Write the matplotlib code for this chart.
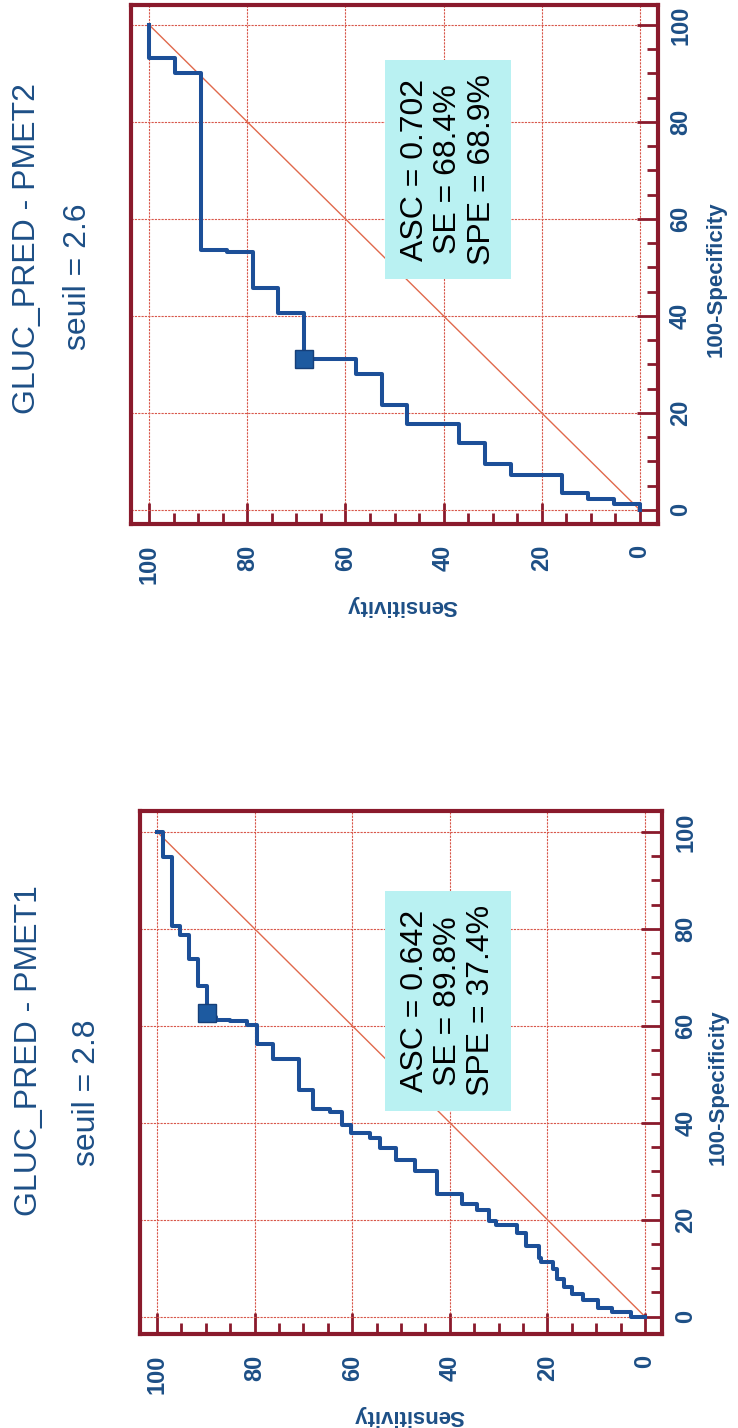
import matplotlib.pyplot as plt
from matplotlib.ticker import MultipleLocator

plt.rcParams['font.family'] = ['Liberation Sans', 'DejaVu Sans']

# ROC step corners (100-Specificity, Sensitivity)
fpr_pmet2 = [0, 1.2, 2.2, 3.5, 7.3, 9.5, 13.7, 17.7, 21.6, 28.1, 31.1, 40.7, 45.8, 53.1, 53.5, 90.0, 93.2, 100]
sens_pmet2 = [0, 0, 5.3, 10.5, 15.8, 26.3, 31.6, 36.8, 47.4, 52.6, 57.9, 68.4, 73.7, 78.9, 84.2, 89.5, 94.7, 100]

fpr_pmet1 = [0, 0.9, 1.7, 3.4, 4.7, 6.0, 7.7, 9.9, 11.2, 12.0, 14.6, 17.2, 18.9, 19.7, 21.9, 23.2, 25.3,
             30.0, 32.2, 34.8, 36.9, 37.8, 39.5, 42.1, 42.9, 46.8, 53.2, 56.2, 60.1, 60.9, 61.1, 61.8,
             68.2, 73.7, 78.8, 80.5, 94.9, 100, 100]
sens_pmet1 = [0, 2.9, 6.8, 9.7, 12.6, 15.0, 16.5, 18.0, 18.9, 21.4, 21.8, 24.3, 26.2, 30.6, 32.0, 34.5, 37.4,
              42.7, 47.1, 51.0, 54.4, 56.3, 60.2, 62.1, 64.6, 68.0, 70.9, 76.2, 79.6, 81.6, 85.0, 87.9,
              89.8, 91.6, 93.4, 95.2, 97.0, 98.7, 100]

titles = ['GLUC_PRED - PMET2', 'GLUC_PRED - PMET1']
seuils = ['seuil = 2.6', 'seuil = 2.8']
asc = [0.702, 0.642]
se = [68.4, 89.8]
spe = [68.9, 37.4]
ticks = [0, 20, 40, 60, 80, 100]

frame_col = '#8a1a2c'
grid_col = '#d8574a'
blue = '#1c4f98'
text_blue = '#1d4f86'

fig = plt.figure(figsize=(7.38, 14.28), dpi=100)
W, H = 738, 1428


def roc_panel(left, top, right, bottom, xlim, ylim, fpr, sens, i, box_xy, xpad, ypad, xlab_xy, ylab_xy):
    ax = fig.add_axes([left / W, 1 - bottom / H, (right - left) / W, (bottom - top) / H])
    # the scan is turned a quarter turn: sensitivity runs right to left, 100-specificity upward
    ax.set_xlim(*xlim)
    ax.set_ylim(*ylim)
    ax.grid(True, color=grid_col, lw=0.8, ls=(0, (2, 1)), zorder=1)
    ax.plot([0, 100], [0, 100], color='#e0694c', lw=1.0, zorder=2)
    ax.step(sens, fpr, where='post', color=blue, lw=2.9, zorder=4)
    ax.plot(se[i], 100 - spe[i], marker='s', ms=12.5, color='#1d5aa0', mec='#163f78', zorder=5)

    ax.text(box_xy[0], box_xy[1],
            'ASC = %.3f\nSE = %.1f%%\nSPE = %.1f%%' % (asc[i], se[i], spe[i]),
            transform=ax.transAxes, rotation=90, ha='center', va='center', multialignment='center',
            fontsize=23, color='black', linespacing=1.15, zorder=6,
            bbox=dict(boxstyle='square,pad=0.45', fc='#b9f1f2', ec='none'))

    ax.set_xticks(ticks)
    ax.set_yticks(ticks)
    ax.xaxis.set_minor_locator(MultipleLocator(5))
    ax.yaxis.set_minor_locator(MultipleLocator(5))
    ax.xaxis.set_ticks_position('bottom')
    ax.yaxis.tick_right()
    ax.tick_params(axis='x', which='both', direction='in', color=frame_col, width=2,
                   labelsize=17, labelcolor=text_blue, labelrotation=90, pad=xpad)
    ax.tick_params(axis='y', which='both', direction='in', color=frame_col, width=2,
                   labelsize=17, labelcolor=text_blue, labelrotation=90, pad=ypad)
    ax.tick_params(which='major', length=15)
    ax.tick_params(which='minor', length=8)
    for lab in ax.get_xticklabels() + ax.get_yticklabels():
        lab.set_fontweight('bold')
    for lab in ax.get_yticklabels():
        lab.set_va('center')

    for sp in ax.spines.values():
        sp.set_color(frame_col)
        sp.set_linewidth(3)

    ax.set_xlabel('Sensitivity', rotation=180, fontsize=16, fontweight='bold', color=text_blue,
                  va='center', ha='center')
    ax.xaxis.set_label_coords(*xlab_xy)
    ax.yaxis.set_label_position('right')
    ax.set_ylabel('100-Specificity', rotation=90, fontsize=16, fontweight='bold', color=text_blue,
                  va='center', ha='center')
    ax.yaxis.set_label_coords(*ylab_xy)
    return ax


roc_panel(131, 5, 658, 524, (103.7, -3.7), (-2.9, 104.1), fpr_pmet2, sens_pmet2, 0,
          (0.602, 0.683), 15, 8, (0.515, -0.157), (1.110, 0.471))
roc_panel(140, 811, 662, 1334, (103.5, -3.5), (-3.6, 104.3), fpr_pmet1, sens_pmet1, 1,
          (0.59, 0.637), 15, 9, (0.515, -0.155), (1.107, 0.471))

fig.text(27 / W, 1 - 248 / H, titles[0], rotation=90, ha='center', va='center', fontsize=23, color=text_blue)
fig.text(78 / W, 1 - 277 / H, seuils[0], rotation=90, ha='center', va='center', fontsize=23, color=text_blue)
fig.text(29 / W, 1 - 1051 / H, titles[1], rotation=90, ha='center', va='center', fontsize=23, color=text_blue)
fig.text(87 / W, 1 - 1093 / H, seuils[1], rotation=90, ha='center', va='center', fontsize=23, color=text_blue)

fig.savefig('out.png', dpi=100)
